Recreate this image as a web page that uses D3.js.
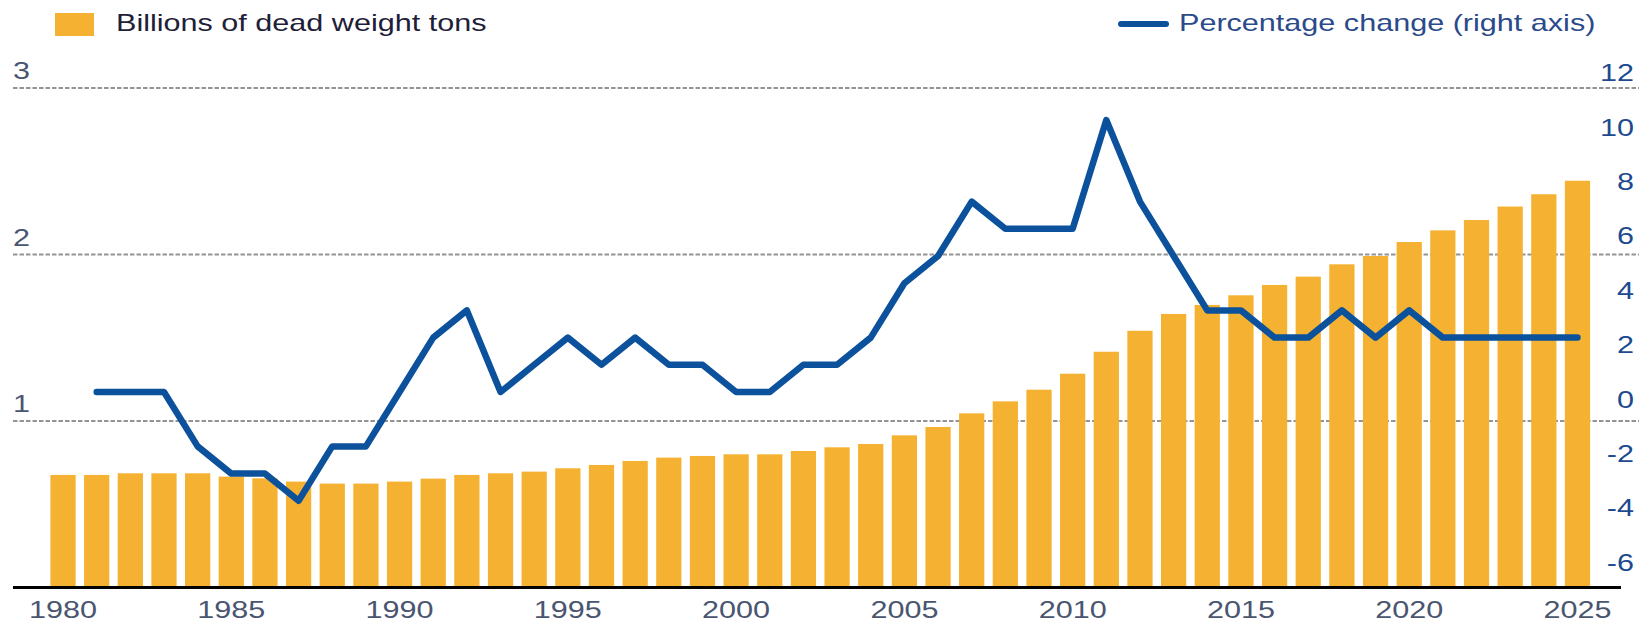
<!DOCTYPE html>
<html>
<head>
<meta charset="utf-8">
<script src="https://cdn.jsdelivr.net/npm/d3@7"></script>
<style>
    body { margin: 0; background: #fff; }
    text { font-family: "Liberation Sans", Arial, sans-serif; }
</style>
</head>
<body>
<div id="chart"></div>
<script>

// Years on the x axis
let years = [1980, 1981, 1982, 1983, 1984, 1985, 1986, 1987, 1988, 1989,
    1990, 1991, 1992, 1993, 1994, 1995, 1996, 1997, 1998, 1999,
    2000, 2001, 2002, 2003, 2004, 2005, 2006, 2007, 2008, 2009,
    2010, 2011, 2012, 2013, 2014, 2015, 2016, 2017, 2018, 2019,
    2020, 2021, 2022, 2023, 2024, 2025];

// Billions of dead weight tons (left axis)
let tonnage = [0.676, 0.676, 0.686, 0.686, 0.686, 0.666, 0.656, 0.636, 0.624, 0.624,
    0.636, 0.654, 0.676, 0.686, 0.696, 0.716, 0.736, 0.760, 0.780, 0.790,
    0.800, 0.800, 0.820, 0.842, 0.862, 0.914, 0.964, 1.046, 1.118, 1.188,
    1.284, 1.416, 1.542, 1.643, 1.697, 1.755, 1.817, 1.867, 1.941, 1.991,
    2.075, 2.145, 2.207, 2.288, 2.362, 2.443];

// Percentage change (right axis), no value for 1980
let pctChange = [null, 0, 0, 0, -2, -3, -3, -4, -2, -2,
    0, 2, 3, 0, 1, 2, 1, 2, 1, 1,
    0, 0, 1, 1, 2, 4, 5, 7, 6, 6,
    6, 10, 7, 5, 3, 3, 2, 2, 3, 2,
    3, 2, 2, 2, 2, 2];

let leftTicks = [1, 2, 3];
let rightTicks = [-6, -4, -2, 0, 2, 4, 6, 8, 10, 12];
let xTicks = [1980, 1985, 1990, 1995, 2000, 2005, 2010, 2015, 2020, 2025];

let legendBars = "Billions of dead weight tons";
let legendLine = "Percentage change (right axis)";

// colours
let barColor = "#F5B232";
let lineColor = "#0B519C";
let labelColor = "#4a5570";
let rightColor = "#1d4a8f";

let width = 1639, height = 623;
let textScale = "scale(1.33,1)";   // the source lettering is wide

let data = years.map((y, i) => ({ year: y, tons: tonnage[i], pct: pctChange[i] }));

let svg = d3.select("#chart").append("svg")
    .attr("width", width)
    .attr("height", height);

// Scales
let x = d3.scaleBand()
    .domain(years)
    .range([46.2, 1594.3])
    .paddingInner(0.25)
    .paddingOuter(0.125);

let yLeft = d3.scaleLinear()
    .domain([0, 3])
    .range([587.5, 88]);

let yRight = d3.scaleLinear()
    .domain([-6, 12])
    .range([555.2, 65.6]);

// Gridlines
svg.append("g")
    .attr("class", "grid")
    .selectAll("line")
    .data(leftTicks)
    .enter().append("line")
    .attr("x1", 13)
    .attr("x2", width)
    .attr("y1", d => yLeft(d))
    .attr("y2", d => yLeft(d))
    .attr("stroke", "#949494")
    .attr("stroke-width", 2)
    .attr("stroke-dasharray", "4.5,2");

// Bars
svg.selectAll(".bar")
    .data(data)
    .enter().append("rect")
    .attr("class", "bar")
    .attr("x", d => x(d.year))
    .attr("width", x.bandwidth())
    .attr("y", d => yLeft(d.tons))
    .attr("height", d => yLeft(0) - yLeft(d.tons))
    .attr("fill", barColor);

// Baseline
svg.append("line")
    .attr("x1", 13)
    .attr("x2", 1621)
    .attr("y1", yLeft(0))
    .attr("y2", yLeft(0))
    .attr("stroke", "#000")
    .attr("stroke-width", 3);

// Line
let line = d3.line()
    .defined(d => d.pct !== null)
    .x(d => x(d.year) + x.bandwidth() / 2)
    .y(d => yRight(d.pct));

svg.append("path")
    .datum(data)
    .attr("d", line)
    .attr("fill", "none")
    .attr("stroke", lineColor)
    .attr("stroke-width", 6.5)
    .attr("stroke-linejoin", "round")
    .attr("stroke-linecap", "round");

// Axes (plain hyphen for negatives, no decimals)
let plain = d => String(d);
let xAxis = d3.axisBottom(x).tickValues(xTicks).tickSize(0).tickFormat(plain);
let leftAxis = d3.axisLeft(yLeft).tickValues(leftTicks).tickSize(0).tickFormat(plain);
let rightAxis = d3.axisRight(yRight).tickValues(rightTicks).tickSize(0).tickFormat(plain);

let gx = svg.append("g")
    .attr("transform", "translate(0," + yLeft(0) + ")")
    .call(xAxis);
gx.selectAll("text")
    .attr("y", 31)
    .attr("dy", null)
    .attr("text-anchor", "middle");

let gl = svg.append("g")
    .attr("transform", "translate(13,0)")
    .call(leftAxis);
gl.selectAll("text")
    .attr("x", 0)
    .attr("y", -9.5)
    .attr("dy", null)
    .attr("text-anchor", "start");

let gr = svg.append("g")
    .attr("transform", "translate(1634,0)")
    .call(rightAxis);
gr.selectAll("text")
    .attr("x", 0)
    .attr("y", 15)
    .attr("dy", null)
    .attr("text-anchor", "end");

[gx, gl, gr].forEach(g => {
    g.select(".domain").remove();
    g.attr("font-family", null).attr("font-size", null);
    g.selectAll("text")
        .attr("transform", textScale)
        .style("font-size", "23px");
});
gx.selectAll("text").attr("fill", labelColor);
gl.selectAll("text").attr("fill", labelColor);
gr.selectAll("text").attr("fill", rightColor);

// Legend
svg.append("rect")
    .attr("x", 55)
    .attr("y", 13)
    .attr("width", 39)
    .attr("height", 23)
    .attr("fill", barColor);

svg.append("text")
    .attr("transform", "translate(116,31) " + textScale)
    .style("font-size", "23px")
    .attr("fill", "#1e2038")
    .text(legendBars);

svg.append("line")
    .attr("x1", 1121)
    .attr("x2", 1166)
    .attr("y1", 24)
    .attr("y2", 24)
    .attr("stroke", lineColor)
    .attr("stroke-width", 6)
    .attr("stroke-linecap", "round");

svg.append("text")
    .attr("transform", "translate(1179,31) " + textScale)
    .style("font-size", "23px")
    .attr("fill", "#2b4a8b")
    .text(legendLine);

</script>
</body>
</html>
